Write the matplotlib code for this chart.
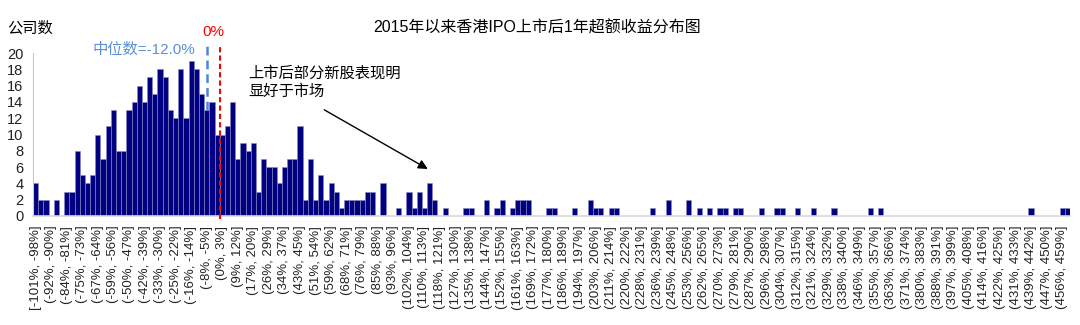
import numpy as np
import matplotlib.pyplot as plt

plt.rcParams['font.family'] = ['Liberation Sans', 'Noto Sans CJK SC', 'DejaVu Sans']

# number of IPOs per excess-return bin (200 bins, ~2.8% wide, from -101% to ~462%)
counts = [4, 2, 2, 0, 2, 0, 3, 3, 8, 5, 4, 5, 10, 7, 11, 13, 8, 8, 13, 14,
          16, 14, 17, 15, 18, 17, 13, 12, 18, 12, 19, 18, 15, 13, 14, 10, 10, 11, 14, 7,
          9, 8, 9, 3, 7, 6, 6, 4, 6, 7, 7, 11, 2, 7, 2, 5, 2, 4, 3, 1,
          2, 2, 2, 2, 3, 3, 0, 4, 0, 0, 1, 0, 3, 1, 3, 1, 4, 2, 0, 1,
          0, 0, 0, 1, 1, 0, 0, 2, 0, 1, 2, 0, 1, 2, 2, 2, 0, 0, 0, 1,
          1, 0, 0, 0, 1, 0, 0, 2, 1, 1, 0, 1, 1, 0, 0, 0, 0, 0, 0, 1,
          0, 0, 2, 0, 0, 0, 2, 0, 1, 0, 1, 0, 1, 1, 0, 1, 1, 0, 0, 0,
          1, 0, 0, 1, 1, 0, 0, 1, 0, 0, 1, 0, 0, 0, 1, 0, 0, 0, 0, 0,
          0, 1, 0, 1, 0, 0, 0, 0, 0, 0, 0, 0, 0, 0, 0, 0, 0, 0, 0, 0,
          0, 0, 0, 0, 0, 0, 0, 0, 0, 0, 0, 0, 1, 0, 0, 0, 0, 0, 1, 1]

# every third bin is labelled
bin_labels = ["[-101%, -98%]", "(-92%, -90%]", "(-84%, -81%]", "(-75%, -73%]", "(-67%, -64%]",
              "(-59%, -56%]", "(-50%, -47%]", "(-42%, -39%]", "(-33%, -30%]", "(-25%, -22%]",
              "(-16%, -14%]", "(-8%, -5%]", "(0%, 3%]", "(9%, 12%]", "(17%, 20%]", "(26%, 29%]",
              "(34%, 37%]", "(43%, 45%]", "(51%, 54%]", "(59%, 62%]", "(68%, 71%]", "(76%, 79%]",
              "(85%, 88%]", "(93%, 96%]", "(102%, 104%]", "(110%, 113%]", "(118%, 121%]",
              "(127%, 130%]", "(135%, 138%]", "(144%, 147%]", "(152%, 155%]", "(161%, 163%]",
              "(169%, 172%]", "(177%, 180%]", "(186%, 189%]", "(194%, 197%]", "(203%, 206%]",
              "(211%, 214%]", "(220%, 222%]", "(228%, 231%]", "(236%, 239%]", "(245%, 248%]",
              "(253%, 256%]", "(262%, 265%]", "(270%, 273%]", "(279%, 281%]", "(287%, 290%]",
              "(296%, 298%]", "(304%, 307%]", "(312%, 315%]", "(321%, 324%]", "(329%, 332%]",
              "(338%, 340%]", "(346%, 349%]", "(355%, 357%]", "(363%, 366%]", "(371%, 374%]",
              "(380%, 383%]", "(388%, 391%]", "(397%, 399%]", "(405%, 408%]", "(414%, 416%]",
              "(422%, 425%]", "(431%, 433%]", "(439%, 442%]", "(447%, 450%]", "(456%, 459%]"]

median_bin = 33      # bin holding the median (-12.0%)
zero_bin = 36        # first bin above 0%

x = np.arange(len(counts))

fig = plt.figure(figsize=(10.8, 3.25), dpi=100)
ax = fig.add_axes([0.0306, 0.3354, 0.9601, 0.5015])

ax.bar(x, counts, width=1.0, color='#000080', edgecolor='#8a8ac4', linewidth=0.4)

ax.set_xlim(-0.5, len(counts) - 0.5)
ax.set_ylim(0, 20)
ax.set_yticks(np.arange(0, 21, 2))
ax.set_xticks(x[::3])
ax.set_xticklabels(bin_labels, rotation=90, fontsize=9.5, color='#222222')
ax.tick_params(axis='x', length=0, pad=7)
ax.tick_params(axis='y', length=0, pad=7, labelsize=10.5, labelcolor='#222222')

for s in ['top', 'right']:
    ax.spines[s].set_visible(False)
ax.spines['left'].set_color('#c8c8c8')
ax.spines['bottom'].set_color('#d9d9d9')
ax.spines['bottom'].set_linewidth(1.2)

# 0% line and median line
ax.plot([zero_bin - 0.5, zero_bin - 0.5], [-0.4, 20.9], color='red', ls=(0, (2.5, 1.5)),
        lw=1.5, clip_on=False, zorder=5)
ax.text(zero_bin - 1.8, 22.6, '0%', color='red', fontsize=11, ha='center', va='center')

ax.plot([median_bin, median_bin], [counts[median_bin], 20.9], color='#4f86d9',
        ls=(0, (3.5, 2)), lw=1.8, clip_on=False, zorder=5)
ax.text(median_bin - 2.3, 20.45, '中位数=-12.0%', color='#5b8fd6', fontsize=11,
        ha='right', va='center')

ax.text(41, 16.4, '上市后部分新股表现明\n显好于市场', fontsize=11, ha='left', va='center',
        linespacing=1.35)
ax.annotate('', xy=(76.1, 5.6), xytext=(55.2, 13.2),
            arrowprops=dict(arrowstyle='-|>', color='black', lw=1, mutation_scale=14))

fig.text(0.028, 0.914, '公司数', fontsize=11, ha='center', va='center')
fig.text(0.497, 0.914, '2015年以来香港IPO上市后1年超额收益分布图', fontsize=11.5,
         ha='center', va='center')

fig.savefig('out.png', dpi=100)
